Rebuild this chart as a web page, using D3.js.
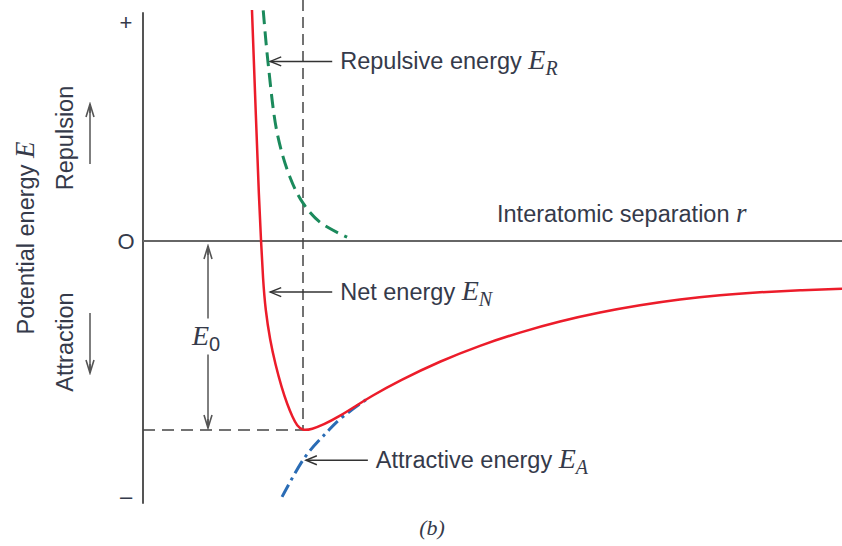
<!DOCTYPE html>
<html>
<head>
<meta charset="utf-8">
<script src="https://cdn.jsdelivr.net/npm/d3@7"></script>
<style>
  body { margin: 0; background: #fff; }
  text { font-family: "Liberation Sans", Arial, sans-serif; fill: #353a4a; }
  .math { font-family: "Liberation Serif", "Times New Roman", serif; font-style: italic; }
</style>
</head>
<body>
<svg id="chart" width="842" height="546"></svg>
<script>
// values, r = separation (arbitrary units), E = energy (E0 = -1)
var netCurve = [
  [1.559, 1.222], [1.617, 0.640], [1.660, 0.217], [1.688, 0.005], [1.717, -0.206],
  [1.752, -0.365], [1.817, -0.524], [1.896, -0.656], [1.981, -0.772], [2.067, -0.868],
  [2.139, -0.931], [2.203, -0.978], [2.289, -1.004], [2.418, -0.995], [2.575, -0.974],
  [2.818, -0.926], [3.033, -0.876], [3.247, -0.825], [3.677, -0.737], [4.249, -0.636],
  [4.821, -0.552], [5.393, -0.483], [5.966, -0.424], [6.538, -0.377], [7.110, -0.339],
  [7.682, -0.308], [8.255, -0.286], [8.827, -0.271], [9.399, -0.260], [10.0, -0.253]
];
var repulsiveCurve = [
  [1.72, 1.22], [1.79, 0.94], [1.92, 0.57], [2.10, 0.34],
  [2.29, 0.20], [2.53, 0.10], [2.92, 0.02]
];
var attractiveCurve = [
  [1.989, -1.354], [2.318, -1.143], [2.632, -1.011], [2.818, -0.942], [3.247, -0.825]
];
var yTickValues = [1.16, 0, -1.35];
var yTickLabels = ["+", "O", "\u2013"];
var r0 = 2.289, E0 = -1;

var svg = d3.select("#chart");

var x = d3.scaleLinear().domain([0, 10]).range([143, 842]);
var y = d3.scaleLinear().domain([-1, 0]).range([430, 241]);

var line = d3.line()
  .x(function (d) { return x(d[0]); })
  .y(function (d) { return y(d[1]); })
  .curve(d3.curveCatmullRom.alpha(0.5));

var smoothLine = d3.line()
  .x(function (d) { return x(d[0]); })
  .y(function (d) { return y(d[1]); })
  .curve(d3.curveBasis);

var defs = svg.append("defs");
defs.append("marker")
  .attr("id", "chev")
  .attr("viewBox", "-14 -6 16 12")
  .attr("markerWidth", 16).attr("markerHeight", 12)
  .attr("markerUnits", "userSpaceOnUse")
  .attr("refX", 0).attr("refY", 0)
  .attr("orient", "auto")
  .append("path")
  .attr("d", "M-11,-4.5 L0,0 L-11,4.5")
  .attr("fill", "none").attr("stroke", "#333").attr("stroke-width", 1.4);
defs.append("marker")
  .attr("id", "head")
  .attr("viewBox", "-16 -6 18 12")
  .attr("markerWidth", 18).attr("markerHeight", 12)
  .attr("markerUnits", "userSpaceOnUse")
  .attr("refX", 0).attr("refY", 0)
  .attr("orient", "auto-start-reverse")
  .append("path")
  .attr("d", "M-13,-4 L0,0 L-13,4 M0,0 L-9,0")
  .attr("fill", "none").attr("stroke", "#555").attr("stroke-width", 1.6);

// axes
svg.append("line")
  .attr("x1", x(0)).attr("x2", x(0))
  .attr("y1", y(1.21)).attr("y2", y(-1.39))
  .attr("stroke", "#555").attr("stroke-width", 2);
svg.append("line")
  .attr("x1", x(0)).attr("x2", x(10))
  .attr("y1", y(0)).attr("y2", y(0))
  .attr("stroke", "#666").attr("stroke-width", 2);

svg.selectAll(".ytick")
  .data(yTickValues)
  .enter().append("text")
  .attr("class", "ytick")
  .attr("x", x(0) - 17)
  .attr("y", function (d) { return y(d); })
  .attr("dy", "0.36em")
  .attr("text-anchor", "middle")
  .style("font-size", "22px")
  .text(function (d, i) { return yTickLabels[i]; });

// equilibrium guides
svg.append("line")
  .attr("x1", x(r0)).attr("x2", x(r0))
  .attr("y1", 0).attr("y2", y(E0))
  .attr("stroke", "#444").attr("stroke-width", 1.5)
  .attr("stroke-dasharray", "11,6");
svg.append("line")
  .attr("x1", x(0)).attr("x2", x(r0))
  .attr("y1", y(E0)).attr("y2", y(E0))
  .attr("stroke", "#444").attr("stroke-width", 1.5)
  .attr("stroke-dasharray", "12,7");

// E0 double arrow
var e0x = x(0.93);
svg.append("line")
  .attr("x1", e0x).attr("x2", e0x)
  .attr("y1", y(0) + 5).attr("y2", y(-0.41))
  .attr("stroke", "#555").attr("stroke-width", 1.5)
  .attr("marker-start", "url(#head)");
svg.append("line")
  .attr("x1", e0x).attr("x2", e0x)
  .attr("y1", y(-0.6)).attr("y2", y(E0) - 2)
  .attr("stroke", "#555").attr("stroke-width", 1.5)
  .attr("marker-end", "url(#head)");
var e0t = svg.append("text")
  .attr("class", "math")
  .attr("x", e0x - 16).attr("y", y(-0.55))
  .style("font-size", "28px");
e0t.append("tspan").text("E");
e0t.append("tspan").attr("dy", 6).attr("font-style", "normal")
  .attr("font-family", "Liberation Sans, Arial, sans-serif")
  .style("font-size", "20px").text("0");

// curves
svg.append("path").datum(repulsiveCurve)
  .attr("d", line).attr("fill", "none")
  .attr("stroke", "#1b8a5c").attr("stroke-width", 3)
  .attr("stroke-dasharray", "14,7");
svg.append("path").datum(attractiveCurve)
  .attr("d", line).attr("fill", "none")
  .attr("stroke", "#2a6cb5").attr("stroke-width", 3)
  .attr("stroke-dasharray", "14,5,3,5");
svg.append("path").datum(netCurve)
  .attr("d", smoothLine).attr("fill", "none")
  .attr("stroke", "#ec1c2a").attr("stroke-width", 2.5);

// curve annotations
var notes = [
  { r: 1.82, E: 0.95, len: 62, label: "Repulsive energy ", sym: "E", sub: "R" },
  { r: 1.82, E: -0.27, len: 62, label: "Net energy ", sym: "E", sub: "N" },
  { r: 2.33, E: -1.16, len: 62, label: "Attractive energy ", sym: "E", sub: "A" }
];
notes.forEach(function (d) {
  var tx = x(d.r), ty = y(d.E);
  svg.append("line")
    .attr("x1", tx + d.len).attr("x2", tx)
    .attr("y1", ty).attr("y2", ty)
    .attr("stroke", "#333").attr("stroke-width", 1.5)
    .attr("marker-end", "url(#chev)");
  var t = svg.append("text")
    .attr("x", tx + d.len + 8).attr("y", ty + 8)
    .style("font-size", "23.5px");
  t.append("tspan").text(d.label);
  t.append("tspan").attr("class", "math").style("font-size", "28px").text(d.sym);
  t.append("tspan").attr("class", "math").attr("dy", 6).style("font-size", "20px").text(d.sub);
});

// x axis title
var xt = svg.append("text")
  .attr("x", 497).attr("y", 222)
  .style("font-size", "23.5px");
xt.append("tspan").text("Interatomic separation ");
xt.append("tspan").attr("class", "math").style("font-size", "27px").text("r");

// y axis titles
var yt = svg.append("text")
  .attr("transform", "translate(34,238) rotate(-90)")
  .attr("text-anchor", "middle")
  .style("font-size", "23.5px");
yt.append("tspan").text("Potential energy ");
yt.append("tspan").attr("class", "math").style("font-size", "27px").text("E");

svg.append("text")
  .attr("transform", "translate(73,138) rotate(-90)")
  .attr("text-anchor", "middle")
  .style("font-size", "23.5px")
  .text("Repulsion");
svg.append("text")
  .attr("transform", "translate(73,342) rotate(-90)")
  .attr("text-anchor", "middle")
  .style("font-size", "23.5px")
  .text("Attraction");

svg.append("line")
  .attr("x1", 90).attr("x2", 90).attr("y1", 164).attr("y2", 104)
  .attr("stroke", "#555").attr("stroke-width", 1.5)
  .attr("marker-end", "url(#head)");
svg.append("line")
  .attr("x1", 90).attr("x2", 90).attr("y1", 313).attr("y2", 373)
  .attr("stroke", "#555").attr("stroke-width", 1.5)
  .attr("marker-end", "url(#head)");

svg.append("text")
  .attr("class", "math")
  .attr("x", 432).attr("y", 535)
  .attr("text-anchor", "middle")
  .style("font-size", "22px")
  .text("(b)");
</script>
</body>
</html>
